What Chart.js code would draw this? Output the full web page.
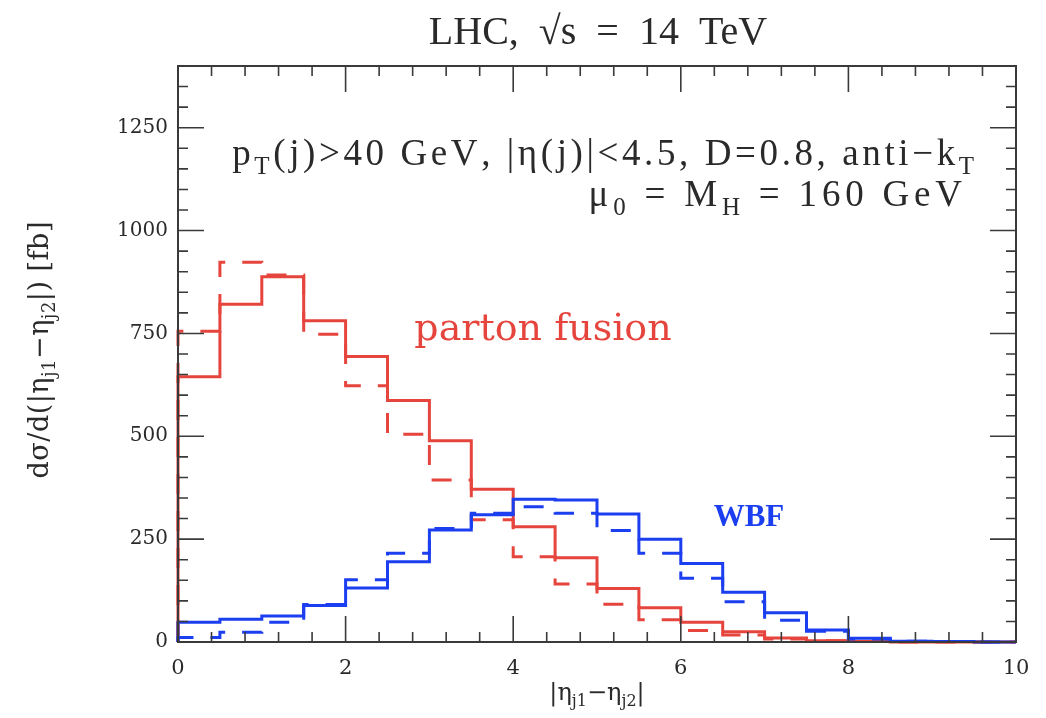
<!DOCTYPE html>
<html>
<head>
<meta charset="utf-8">
<script src="https://cdn.jsdelivr.net/npm/chart.js@4/dist/chart.umd.min.js"></script>
<style>
  html, body { margin: 0; padding: 0; background: #ffffff; }
  #wrap { width: 1046px; height: 718px; }
</style>
</head>
<body>
<div id="wrap"><canvas id="c" width="1046" height="718"></canvas></div>
<script>
// ---- data (bin edges and bin contents, fb per unit) ----
const binEdges = [0, 0.5, 1, 1.5, 2, 2.5, 3, 3.5, 4, 4.5, 5, 5.5, 6, 6.5, 7, 7.5, 8, 8.5, 9, 9.5, 10];
const partonFusionSolid  = [645, 821, 888, 781, 694, 587, 489, 371, 280, 205, 130, 83, 48, 25, 10, 3, 1, 0, 0, 0];
const partonFusionDashed = [755, 923, 892, 748, 623, 505, 394, 297, 207, 141, 92, 54, 28, 17, 7, 3, 1, 0, 0, 0];
const wbfSolid           = [48, 55, 63, 89, 131, 195, 272, 309, 347, 345, 311, 250, 191, 121, 71, 29, 9, 2, 1, 0];
const wbfDashed          = [11, 24, 48, 91, 151, 216, 276, 313, 329, 313, 271, 216, 155, 98, 53, 26, 7, 2, 1, 0];
const xTickLabels = [0, 2, 4, 6, 8, 10];
const yTickLabels = [0, 250, 500, 750, 1000, 1250];

const RED = '#e6453e';
const BLUE = '#1b3ff0';
const TXT = '#2a2a2a';

function stepPoints(vals) {
  // histogram outline (stepped 'before'): each point holds its value up to the next edge
  const pts = [{x: binEdges[0], y: 0}];
  for (let i = 0; i < vals.length; i++) pts.push({x: binEdges[i], y: vals[i]});
  pts.push({x: binEdges[binEdges.length - 1], y: vals[vals.length - 1]});
  return pts;
}

function fontStr(p, size, family) {
  return (p.sub ? Math.round(size * 0.68) : size) + 'px ' + family;
}
function partWidth(ctx, t, ls) {
  let w = 0;
  for (const ch of t) w += ctx.measureText(ch).width + ls;
  return w;
}
function richWidth(ctx, parts, size, family, ls) {
  let w = 0;
  for (const p of parts) { ctx.font = fontStr(p, size, family); w += partWidth(ctx, p.t, ls); }
  return w - ls;
}
function drawRich(ctx, parts, x, y, align, size, family, color, ls) {
  ls = ls || 0;
  const w = richWidth(ctx, parts, size, family, ls);
  let cx = align === 'center' ? x - w / 2 : (align === 'right' ? x - w : x);
  ctx.textAlign = 'left';
  ctx.textBaseline = 'alphabetic';
  ctx.fillStyle = color;
  for (const p of parts) {
    ctx.font = fontStr(p, size, family);
    for (const ch of p.t) {
      ctx.fillText(ch, cx, y + (p.sub ? size * 0.25 : 0));
      cx += ctx.measureText(ch).width + ls;
    }
  }
}

const framePlugin = {
  id: 'frame',
  afterDatasetsDraw(chart) {
    const ctx = chart.ctx;
    const a = chart.chartArea;
    const xs = chart.scales.x, ys = chart.scales.y;
    ctx.save();
    ctx.strokeStyle = '#3a3a3a';
    ctx.lineWidth = 2;
    ctx.strokeRect(a.left, a.top, a.right - a.left, a.bottom - a.top);
    ctx.lineWidth = 1.6;
    ctx.beginPath();
    for (let k = 0; k <= 25; k++) {
      const v = k * 0.4;
      const px = xs.getPixelForValue(v);
      const major = Math.abs(v / 2 - Math.round(v / 2)) < 1e-6;
      const L = major ? 26 : 10;
      ctx.moveTo(px, a.bottom); ctx.lineTo(px, a.bottom - L);
      ctx.moveTo(px, a.top); ctx.lineTo(px, a.top + L);
    }
    for (let k = 0; k <= 28; k++) {
      const v = k * 50;
      const py = ys.getPixelForValue(v);
      const major = v % 250 === 0;
      const L = major ? 26 : 10;
      ctx.moveTo(a.left, py); ctx.lineTo(a.left + L, py);
      ctx.moveTo(a.right, py); ctx.lineTo(a.right - L, py);
    }
    ctx.stroke();
    ctx.restore();
  },
  afterDraw(chart) {
    const ctx = chart.ctx;
    const a = chart.chartArea;
    ctx.save();
    const serif = '"Liberation Serif", "Times New Roman", serif';
    const dserif = '"DejaVu Serif", serif';
    // title
    ctx.font = '40px ' + serif;
    ctx.fillStyle = TXT;
    ctx.textAlign = 'center';
    ctx.textBaseline = 'alphabetic';
    ctx.fillText('LHC,  \u221As  =  14  TeV', 598, 44);
    // annotations
    drawRich(ctx, [
      {t: 'p'}, {t: 'T', sub: true}, {t: '(j)>40 GeV, |\u03B7(j)|<4.5, D=0.8, anti\u2212k'}, {t: 'T', sub: true}
    ], 974, 165, 'right', 37, serif, TXT, 3.6);
    drawRich(ctx, [
      {t: '\u03BC'}, {t: '0', sub: true}, {t: ' = M'}, {t: 'H', sub: true}, {t: ' = 160 GeV'}
    ], 962, 206, 'right', 37, serif, TXT, 4.8);
    // series labels
    ctx.font = '38px ' + dserif;
    ctx.fillStyle = RED;
    ctx.textAlign = 'center';
    ctx.fillText('parton fusion', 543, 340);
    ctx.font = 'bold 31px ' + serif;
    ctx.fillStyle = BLUE;
    ctx.fillText('WBF', 749, 526);
    // x axis title
    drawRich(ctx, [{t: '|\u03B7'}, {t: 'j1', sub: true}, {t: '\u2212\u03B7'}, {t: 'j2', sub: true}, {t: '|'}],
      (a.left + a.right) / 2, 700, 'center', 24, dserif, TXT, 0);
    // y axis title (rotated)
    ctx.translate(48, 350);
    ctx.rotate(-Math.PI / 2);
    drawRich(ctx, [{t: 'd\u03C3/d(|\u03B7'}, {t: 'j1', sub: true}, {t: '\u2212\u03B7'}, {t: 'j2', sub: true}, {t: '|) [fb]'}],
      0, 0, 'center', 27, dserif, TXT, 0.5);
    ctx.restore();
  }
};

const ds = (label, vals, color, dashed) => ({
  label,
  data: stepPoints(vals),
  borderColor: color,
  backgroundColor: color,
  borderWidth: 3,
  borderDash: dashed ? [20, 17] : [],
  stepped: 'before',
  pointRadius: 0,
  fill: false,
  clip: 6
});

new Chart(document.getElementById('c'), {
  type: 'line',
  data: {
    datasets: [
      ds('WBF NLO', wbfSolid, BLUE, false),
      ds('WBF LO', wbfDashed, BLUE, true),
      ds('parton fusion NLO', partonFusionSolid, RED, false),
      ds('parton fusion LO', partonFusionDashed, RED, true)
    ]
  },
  options: {
    responsive: false,
    devicePixelRatio: 1,
    animation: false,
    layout: { padding: { left: 0, top: 66, right: 30, bottom: 0 } },
    plugins: { legend: { display: false }, tooltip: { enabled: false }, title: { display: false } },
    scales: {
      x: {
        type: 'linear', min: 0, max: 10,
        grid: { display: false, drawTicks: false }, border: { display: false },
        afterBuildTicks: s => { s.ticks = xTickLabels.map(v => ({value: v})); },
        afterFit: s => { s.height = 76; },
        ticks: { padding: 14, color: TXT, font: { family: '"DejaVu Serif", serif', size: 21 }, maxRotation: 0,
                 callback: v => String(v) }
      },
      y: {
        type: 'linear', min: 0, max: 1400,
        grid: { display: false, drawTicks: false }, border: { display: false },
        afterBuildTicks: s => { s.ticks = yTickLabels.map(v => ({value: v})); },
        afterFit: s => { s.width = 178; },
        ticks: { padding: 10, color: TXT, font: { family: '"DejaVu Serif", serif', size: 20 },
                 callback: v => String(v) }
      }
    }
  },
  plugins: [framePlugin]
});
</script>
</body>
</html>
